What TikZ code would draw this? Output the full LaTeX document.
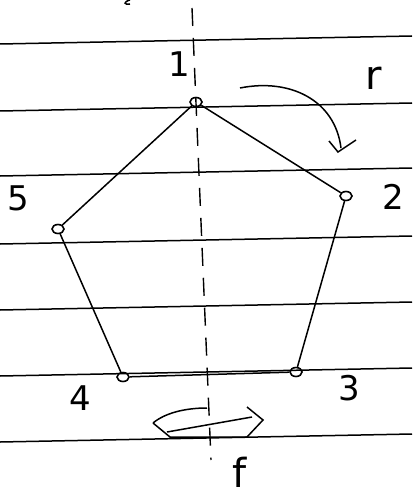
\documentclass[tikz,border=0pt]{standalone}
\usepackage{fontspec}
\usetikzlibrary{shapes.geometric}
\setmainfont{DejaVu Sans}
\setsansfont{DejaVu Sans}
\begin{document}
\begin{tikzpicture}[x=1pt,y=-1pt,
  vtx/.style={ellipse,draw,line width=1.6pt,minimum width=12pt,minimum height=9pt,inner sep=0pt},
  edge/.style={line width=1.5pt},
  rule/.style={line width=1.5pt},
  lbl/.style={font=\fontsize{34}{34}\selectfont\sffamily\mdseries},
  big/.style={font=\fontsize{40}{40}\selectfont\sffamily\mdseries},
  axis/.style={line width=1.4pt,dash pattern=on 18pt off 12pt}]
\useasboundingbox (0,0) rectangle (412,500);
% ruled paper lines
\foreach \y in {44,111,176,244,310,376,442}
  \draw[rule] (0,\y) -- (412,\y-8);
% symmetry axis
\coordinate (axt) at (192,8);
\coordinate (axb) at (211,460);
\draw[axis] (axt) -- (axb);
% vertices
\node[vtx] (v1) at (196,102) {};
\node[vtx] (v2) at (346,196) {};
\node[vtx] (v3) at (296,372) {};
\node[vtx] (v4) at (123,377) {};
\node[vtx] (v5) at (58,229) {};
% edges
\draw[edge] (v1) -- (v2) -- (v3) -- (v4) -- (v5) -- (v1);
% labels
\node[lbl] (l1) at (179,64) {1};
\node[lbl] (l2) at (393,197) {2};
\node[lbl] (l3) at (349,388) {3};
\node[lbl] (l4) at (80,398) {4};
\node[lbl] (l5) at (18,198) {5};
\node[big] (lr) at (374,78) {r};
\node[big] (lf) at (240,472) {f};
% fragment at top
\draw[edge] (130,0) .. controls (123,2) and (124,5) .. (130,4);
% rotation arrow
\coordinate (ra) at (240,88);
\coordinate (rb) at (341,148);
\draw[edge] (ra) .. controls (290,78) and (335,100) .. (rb);
\draw[edge] (329,141) -- (338,152) -- (356,140);
% flip symbol
\coordinate (fa) at (167,432);
\coordinate (fb) at (252,417);
\draw[edge] (fa) -- (fb);
\draw[edge] (153,423) .. controls (165,413) and (185,408) .. (207,408);
\draw[edge] (153,423) -- (170,437) -- (247,437) -- (263,420) -- (247,407);
\end{tikzpicture}
\end{document}
